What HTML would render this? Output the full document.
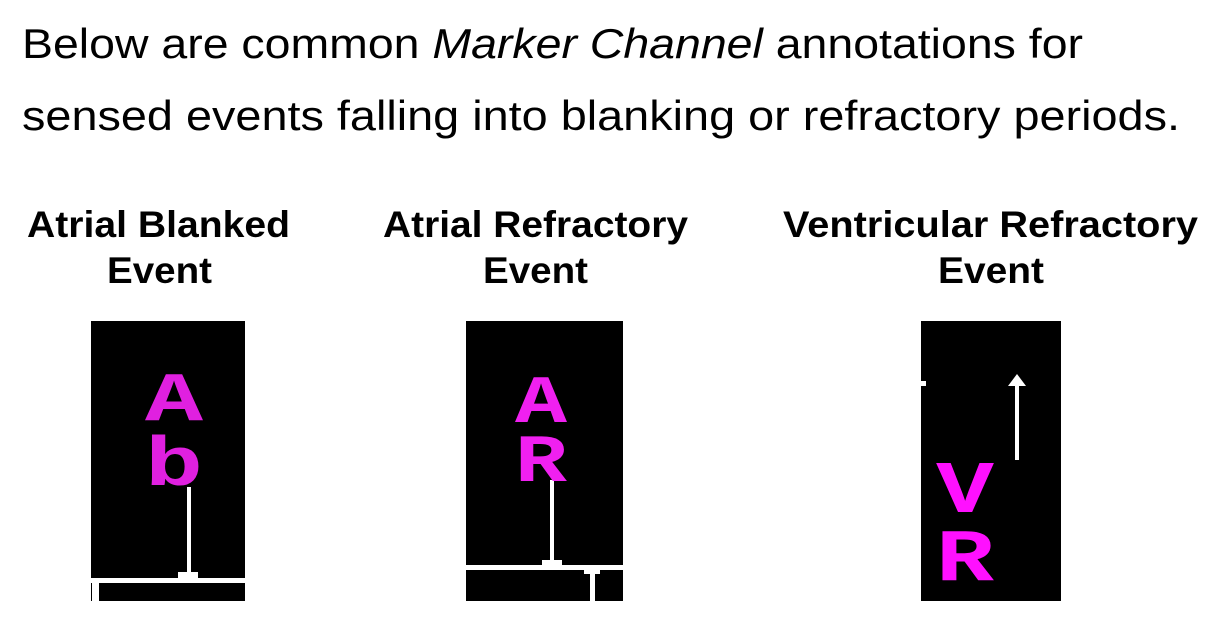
<!DOCTYPE html>
<html><head><meta charset="utf-8"><style>html,body{margin:0;padding:0;background:#fff;}svg{display:block}</style></head>
<body>
<svg width="1221" height="629" viewBox="0 0 1221 629" xmlns="http://www.w3.org/2000/svg">
<g font-family="Liberation Sans, sans-serif" fill="#000">
<text x="22" y="58" font-size="42" textLength="1061" lengthAdjust="spacingAndGlyphs">Below are common <tspan font-style="italic">Marker Channel</tspan> annotations for</text>
<text x="22" y="130" font-size="42" textLength="1158" lengthAdjust="spacingAndGlyphs">sensed events falling into blanking or refractory periods.</text>
<g font-weight="bold" font-size="37">
<text x="27" y="237" textLength="263" lengthAdjust="spacingAndGlyphs">Atrial Blanked</text>
<text x="107" y="283" textLength="105" lengthAdjust="spacingAndGlyphs">Event</text>
<text x="383" y="237" textLength="305" lengthAdjust="spacingAndGlyphs">Atrial Refractory</text>
<text x="483" y="283" textLength="105" lengthAdjust="spacingAndGlyphs">Event</text>
<text x="783" y="237" textLength="415" lengthAdjust="spacingAndGlyphs">Ventricular  Refractory</text>
<text x="938" y="283" textLength="106" lengthAdjust="spacingAndGlyphs">Event</text>
</g>
</g>
<!-- Box 1 -->
<rect x="91" y="321" width="154" height="280" fill="#000"/>
<rect x="187" y="487" width="4" height="92" fill="#fff"/>
<rect x="178" y="572" width="20" height="8" fill="#fff"/>
<rect x="91" y="578" width="154" height="5" fill="#fff"/>
<rect x="92" y="583" width="7" height="18" fill="#fff"/>
<g font-family="Liberation Mono, monospace" font-weight="bold" fill="#e020e0">
<text x="145" y="420" font-size="70" textLength="58" lengthAdjust="spacingAndGlyphs">A</text>
<text x="145" y="485" font-size="70" textLength="58" lengthAdjust="spacingAndGlyphs">b</text>
</g>
<!-- Box 2 -->
<rect x="466" y="321" width="157" height="280" fill="#000"/>
<rect x="550" y="480" width="4" height="88" fill="#fff"/>
<rect x="466" y="565" width="157" height="5" fill="#fff"/>
<rect x="542" y="560" width="20" height="8" fill="#fff"/>
<rect x="584" y="568" width="16" height="6" fill="#fff"/>
<rect x="590" y="570" width="5" height="31" fill="#fff"/>
<g font-family="Liberation Mono, monospace" font-weight="bold" fill="#f020f0">
<text x="515" y="422" font-size="68" textLength="52" lengthAdjust="spacingAndGlyphs">A</text>
<text x="515" y="481" font-size="68" textLength="52" lengthAdjust="spacingAndGlyphs">R</text>
</g>
<!-- Box 3 -->
<rect x="921" y="321" width="140" height="280" fill="#000"/>
<rect x="1015" y="380" width="4" height="80" fill="#fff"/>
<polygon points="1017,374 1026,386 1008,386" fill="#fff"/>
<rect x="921" y="381" width="5" height="5" fill="#fff"/>
<g font-family="Liberation Mono, monospace" font-weight="bold" fill="#ff10ff">
<text x="936" y="512" font-size="74" textLength="58" lengthAdjust="spacingAndGlyphs">V</text>
<text x="936" y="580" font-size="74" textLength="58" lengthAdjust="spacingAndGlyphs">R</text>
</g>
</svg>
</body></html>
